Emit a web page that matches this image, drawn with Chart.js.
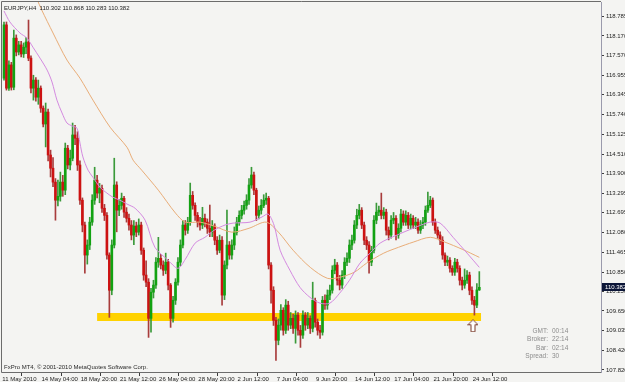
<!DOCTYPE html>
<html>
<head>
<meta charset="utf-8">
<script src="https://cdn.jsdelivr.net/npm/chart.js@4.4.0/dist/chart.umd.min.js"></script>
<style>
  html, body { margin: 0; padding: 0; background: #f4f4f2; }
</style>
</head>
<body>
<canvas id="c" width="625" height="382"></canvas>
<script>
// EURJPY H4, 11 May 2010 12:00 .. 24 Jun 2010 20:00 (one value per bar)
const symbolTitle = 'EURJPY,H4  110.302 110.868 110.283 110.382';
const copyright = 'FxPro MT4, \u00a9 2001-2010 MetaQuotes Software Corp.';
const infoLabels = ['GMT:', 'Broker:', 'Bar:', 'Spread:'];
const infoValues = ['00:14', '22:14', '02:14', '30'];

const firstOpen = 116.86;
const closes = [
  118.51,116.55,117.27,116.58,118.10,117.67,117.89,117.61,117.82,117.98,
  117.48,116.55,116.80,116.27,116.55,115.93,115.44,115.81,114.48,114.07,
  113.64,113.08,113.20,113.64,113.39,114.69,114.17,114.38,115.10,115.00,
  114.17,113.08,112.31,111.38,111.69,112.40,113.08,113.70,113.30,113.45,
  112.83,112.61,111.38,110.29,111.69,113.55,112.77,112.92,113.14,112.71,
  112.52,112.31,112.00,112.28,112.09,112.31,111.53,110.76,110.54,109.42,
  110.23,110.45,111.16,111.28,111.07,110.91,111.16,110.45,109.42,109.98,
  110.54,111.16,111.69,112.31,112.15,112.40,113.23,112.92,112.61,112.40,
  112.31,112.52,112.40,112.21,112.09,112.28,111.84,111.53,111.84,110.14,
  111.07,111.69,111.38,111.69,112.09,112.40,112.61,112.77,112.92,113.08,
  113.55,113.86,113.39,112.61,112.77,112.92,113.08,113.14,111.07,110.29,
  109.36,108.74,109.21,109.67,109.05,109.83,109.21,109.42,109.11,109.52,
  109.05,108.90,109.52,109.21,109.42,109.11,109.98,109.30,109.05,108.99,
  109.98,109.83,110.14,110.29,110.91,111.07,110.60,110.45,110.76,111.16,
  111.28,111.69,111.84,112.31,112.61,112.77,112.31,111.84,111.69,111.16,
  111.53,112.46,112.71,112.77,112.61,112.71,112.15,112.00,112.46,112.52,
  112.00,112.21,112.65,112.40,112.61,112.31,112.52,112.31,112.40,112.15,
  112.31,112.40,112.77,112.92,113.08,112.40,112.15,112.00,111.84,111.38,
  111.16,111.22,110.97,110.85,111.16,110.97,110.60,110.45,110.60,110.76,
  110.29,109.98,109.83,110.30,110.382
];
const highs = [
  118.60,118.60,117.40,117.35,118.35,118.20,118.00,118.00,117.95,118.12,
  118.66,117.55,116.95,116.88,116.80,116.62,116.00,116.09,115.90,114.63,
  114.40,113.75,113.70,113.95,113.85,114.85,114.78,114.63,115.47,115.40,
  115.20,114.30,113.15,112.40,111.85,112.55,113.25,114.10,113.85,113.60,
  113.55,112.95,112.70,111.45,111.85,114.38,113.65,113.10,113.30,113.20,
  112.85,112.65,112.45,112.45,112.40,112.50,112.40,111.60,111.20,110.65,
  110.35,110.60,111.30,111.93,111.40,111.20,111.44,111.25,110.50,110.10,
  110.65,111.30,111.85,112.45,112.45,112.55,113.61,113.35,113.00,112.70,
  112.55,112.86,112.65,112.50,112.93,112.45,112.35,111.95,112.00,111.95,
  111.20,112.77,111.80,111.85,112.25,112.55,112.75,112.92,113.05,113.25,
  113.75,114.10,113.95,113.45,112.90,113.10,113.25,113.30,113.20,111.15,
  110.40,109.45,109.40,109.85,109.75,110.00,109.95,109.60,109.55,109.65,
  109.60,109.20,109.65,109.60,109.60,109.50,110.54,110.05,109.40,109.20,
  110.10,110.15,110.30,110.45,111.05,111.25,111.15,110.75,110.90,111.30,
  111.45,111.85,112.00,112.45,112.80,112.95,112.85,112.40,111.95,111.80,
  111.65,112.60,112.99,112.90,113.30,112.85,112.80,112.25,112.60,112.70,
  112.60,112.35,112.80,112.75,112.75,112.70,112.65,112.60,112.55,112.50,
  112.45,112.55,112.90,113.33,113.20,113.15,112.50,112.25,112.10,111.95,
  111.45,111.35,111.30,111.05,111.28,111.25,111.05,110.70,110.95,110.90,
  110.85,110.40,110.10,110.50,110.868
];
const lows = [
  116.80,116.49,116.48,116.49,116.50,117.55,117.58,117.52,117.50,117.62,
  117.40,116.40,116.18,116.15,116.05,115.80,115.35,114.73,114.30,113.80,
  113.50,112.46,112.90,113.05,113.20,113.25,114.05,114.02,114.30,114.80,
  114.00,112.95,112.10,110.82,111.10,111.55,112.30,112.95,113.15,113.00,
  112.70,112.45,111.25,109.45,110.15,111.60,112.10,112.60,112.80,112.55,
  112.40,112.15,111.85,111.70,111.95,112.00,111.40,110.60,110.40,108.83,
  108.99,110.05,110.35,111.00,110.95,110.75,110.80,110.30,109.14,109.30,
  109.85,110.45,111.05,111.60,112.00,112.05,112.30,112.80,112.45,112.25,
  112.15,112.20,112.25,112.05,111.95,111.95,111.70,111.40,111.45,109.83,
  110.00,110.95,111.25,111.25,111.55,112.00,112.30,112.50,112.65,112.80,
  112.95,113.45,113.25,112.45,112.50,112.65,112.85,112.95,110.95,109.89,
  109.20,108.12,108.60,109.05,108.90,108.95,109.05,109.10,108.95,108.65,
  108.90,108.52,108.80,109.05,109.10,108.95,109.00,109.15,108.90,108.80,
  108.90,109.70,109.70,110.00,110.20,110.80,110.45,110.30,110.35,110.65,
  111.05,111.15,111.55,111.75,112.20,112.50,112.20,111.70,111.55,110.82,
  111.05,111.45,112.35,112.60,112.50,112.50,112.00,111.85,111.90,112.35,
  111.85,111.90,112.10,112.30,112.30,112.20,112.20,112.20,112.20,112.05,
  112.05,112.20,112.30,112.70,112.85,112.30,112.05,111.90,111.70,111.25,
  111.05,111.05,110.85,110.75,110.75,110.85,110.45,110.30,110.35,110.50,
  110.15,109.85,109.52,109.75,110.283
];

// moving averages, read at [bar, price]
const maFast = [
  [0,118.94],[2.4,118.60],[6.5,118.26],[9.4,118.10],[11.8,117.82],[14.7,117.48],
  [17.6,117.11],[19.6,116.74],[21.6,116.18],[23.7,115.78],[25.7,115.47],[27.8,115.38],
  [29.8,115.31],[31,114.85],[32.2,114.42],[34.3,114.01],[36.3,113.79],[39.2,113.48],
  [42,113.30],[44.5,113.17],[47.3,113.08],[50.2,112.96],[53.5,112.83],[57.6,112.46],
  [61.6,111.62],[67,111.22],[71,110.97],[74,111.25],[78,111.75],[82,111.93],
  [86,112.16],[90.2,112.31],[93.5,112.37],[100.4,112.40],[105.3,112.56],[107.8,112.65],
  [110.2,112.31],[112.7,111.53],[116.7,110.91],[120.8,110.38],[124.9,110.07],[129,109.89],
  [133,109.89],[137,110.20],[141,110.60],[145.3,111.13],[149.4,111.44],[153.5,111.75],
  [160.4,112.00],[167,112.21],[173.9,112.40],[178,112.37],[183.3,111.93],[189,111.44],
  [194,111.00]
];
const maSlow = [
  [13.5,119.30],[15.4,118.97],[20,118.26],[25.7,117.42],[31,116.86],[36.3,116.18],
  [43.3,115.34],[50.2,114.72],[52.7,114.32],[56.2,114.01],[63,113.39],[70,112.68],
  [74,112.40],[80,112.40],[86,112.27],[93,112.09],[100,112.21],[107,112.40],
  [112,112.09],[118,111.53],[125,111.00],[132,110.66],[137,110.69],[143,110.85],
  [148,111.13],[155,111.44],[161,111.62],[167,111.78],[174,111.93],[180,111.78],
  [187,111.56],[194,111.31]
];

// support zone and arrow mark
const zoneLevel = 109.46;
const zoneFrom = 38;
const zoneTo = 194.7;
const arrowMarks = [[191.4, 109.19]];

// axis ticks
const priceTicks = [118.785,118.170,117.570,116.955,116.345,115.740,115.125,114.510,113.900,
  113.295,112.695,112.080,111.465,110.850,110.250,109.650,109.035,108.420,107.820];
const timeTickBars = [0,16,32,48,64,80,96,112,128,144,160,176,192];
const timeTickText = ['11 May 2010','14 May 04:00','18 May 20:00','21 May 12:00','26 May 04:00',
  '28 May 20:00','2 Jun 12:00','7 Jun 04:00','9 Jun 20:00','14 Jun 12:00','17 Jun 04:00',
  '21 Jun 20:00','24 Jun 12:00'];

const opens = [firstOpen].concat(closes.slice(0, -1));
const isBull = closes.map((c, i) => c >= opens[i]);

// arrow icon used as point style
const arrowIcon = document.createElement('canvas');
arrowIcon.width = 11; arrowIcon.height = 13;
(function () {
  const g = arrowIcon.getContext('2d');
  g.beginPath();
  g.moveTo(5.5, 0.5); g.lineTo(10.5, 5.5); g.lineTo(7.5, 5.5); g.lineTo(7.5, 12.5);
  g.lineTo(3.5, 12.5); g.lineTo(3.5, 5.5); g.lineTo(0.5, 5.5); g.closePath();
  g.fillStyle = '#ffffff'; g.fill();
  g.strokeStyle = '#7a3a2a'; g.lineWidth = 1; g.stroke();
})();

const FONT = 'Liberation Sans';
Chart.defaults.font.family = FONT;

const mt4Plugin = {
  id: 'mt4',
  beforeDraw(chart) {
    const ctx = chart.ctx;
    ctx.save();
    ctx.fillStyle = '#f4f4f2';
    ctx.fillRect(0, 0, chart.width, chart.height);
    ctx.restore();
  },
  afterDraw(chart) {
    const { ctx, chartArea: a } = chart;
    const y = chart.scales.y;
    ctx.save();
    // frame
    ctx.strokeStyle = '#6c6c6c';
    ctx.lineWidth = 1;
    ctx.beginPath();
    ctx.moveTo(a.right, a.top - 0.5); ctx.lineTo(a.left - 0.5, a.top - 0.5);
    ctx.lineTo(a.left - 0.5, a.bottom + 0.5); ctx.lineTo(a.right, a.bottom + 0.5);
    ctx.stroke();

    ctx.textBaseline = 'middle';
    ctx.font = '6px "' + FONT + '"';
    ctx.fillStyle = '#1c1c1c';
    ctx.fillText(symbolTitle, 4, 8);
    ctx.fillStyle = '#2a2a2a';
    ctx.fillText(copyright, 4, 367);

    ctx.font = '6.5px "' + FONT + '"';
    ctx.fillStyle = '#8c8c8c';
    infoLabels.forEach((t, i) => {
      ctx.textAlign = 'right';
      ctx.fillText(t, 548, 331 + i * 8.4);
      ctx.textAlign = 'left';
      ctx.fillText(infoValues[i], 552, 331 + i * 8.4);
    });

    // current price tag
    const last = closes[closes.length - 1];
    const py = Math.round(y.getPixelForValue(last));
    ctx.fillStyle = '#0c1638';
    ctx.fillRect(602, py - 4, 23, 8);
    ctx.fillStyle = '#ffffff';
    ctx.font = '6px "' + FONT + '"';
    ctx.textAlign = 'left';
    ctx.fillText(last.toFixed(3), 605, py);
    ctx.restore();
  }
};

new Chart(document.getElementById('c'), {
  type: 'bar',
  data: {
    datasets: [
      {
        type: 'line', label: 'fast', order: 0,
        data: maFast.map(p => ({ x: p[0], y: p[1] })),
        borderColor: '#d48ae0', borderWidth: 1, pointRadius: 0, tension: 0.3
      },
      {
        type: 'line', label: 'slow', order: 0,
        data: maSlow.map(p => ({ x: p[0], y: p[1] })),
        borderColor: '#e9ad78', borderWidth: 1, pointRadius: 0, tension: 0.3
      },
      {
        type: 'scatter', label: 'arrow', order: 0,
        data: arrowMarks.map(p => ({ x: p[0], y: p[1] })),
        pointStyle: arrowIcon, pointRadius: 6
      },
      {
        type: 'bar', label: 'body', order: 1, grouped: false,
        data: closes.map((c, i) => ({ x: i, y: [opens[i], c] })),
        backgroundColor: isBull.map(b => b ? '#12a212' : '#cc1212'),
        barThickness: 2, minBarLength: 1, borderWidth: 0
      },
      {
        type: 'bar', label: 'wick', order: 2, grouped: false,
        data: closes.map((c, i) => ({ x: i, y: [lows[i], highs[i]] })),
        backgroundColor: isBull.map(b => b ? '#3a9a3a' : '#a83c3c'),
        barThickness: 1, borderWidth: 0
      },
      {
        type: 'line', label: 'zone', order: 3,
        data: [{ x: zoneFrom, y: zoneLevel }, { x: zoneTo, y: zoneLevel }],
        borderColor: '#ffd200', borderWidth: 8, borderCapStyle: 'butt', pointRadius: 0
      }
    ]
  },
  options: {
    responsive: false,
    animation: false,
    events: [],
    layout: { autoPadding: false, padding: { left: 2, top: 2, right: 0, bottom: 0 } },
    plugins: { legend: { display: false }, tooltip: { enabled: false } },
    scales: {
      x: {
        type: 'linear', min: -0.82, max: 243.67, offset: false,
        grid: { display: true, drawOnChartArea: false, drawTicks: true, tickLength: 4,
                color: '#3c3c3c', tickColor: '#3c3c3c' },
        border: { display: false },
        afterBuildTicks: s => { s.ticks = timeTickBars.map(v => ({ value: v - 0.7 })); },
        ticks: {
          autoSkip: false, maxRotation: 0, minRotation: 0, align: 'start', padding: 0,
          font: { family: FONT, size: 6 }, color: '#1c1c1c',
          callback: (v, i) => timeTickText[i]
        },
        afterFit: s => { s.height = 10; s.paddingLeft = 0; s.paddingRight = 0; }
      },
      y: {
        position: 'right', min: 107.758, max: 119.219,
        grid: { display: true, drawOnChartArea: false, drawTicks: true, tickLength: 3,
                color: '#3c3c3c', tickColor: '#3c3c3c' },
        border: { display: true, color: '#9a9aac', width: 1 },
        afterBuildTicks: s => { s.ticks = priceTicks.map(v => ({ value: v })); },
        ticks: {
          autoSkip: false, padding: 2,
          font: { family: FONT, size: 6 }, color: '#1c1c1c',
          callback: v => v.toFixed(3)
        },
        afterFit: s => { s.width = 24; s.paddingTop = 0; s.paddingBottom = 0; }
      }
    }
  },
  plugins: [mt4Plugin]
});
</script>
</body>
</html>
